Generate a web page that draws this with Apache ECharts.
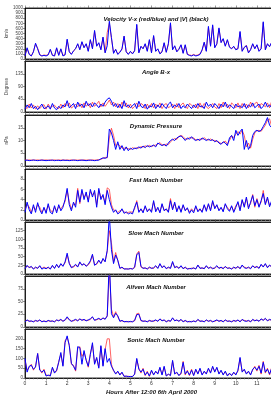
<!DOCTYPE html>
<html>
<head>
<meta charset="utf-8">
<script src="https://cdn.jsdelivr.net/npm/echarts/dist/echarts.min.js"></script>
<style>
    html, body { margin: 0; padding: 0; background: #fff; }
    #chart { width: 271px; height: 399px; }
</style>
</head>
<body>
<div id="chart"></div>
<script>
// sample spacing of the data, hours
const STEP = 0.1

const panelTitles = ['Velocity V-x (red/blue) and |V| (black)', 'Angle B-x', 'Dynamic Pressure',
    'Fast Mach Number', 'Slow Mach Number', 'Alfven Mach Number', 'Sonic Mach Number']
const yNames = ['km/s', 'Degrees', 'nPa', '', '', '', '']
const yMin = [0, 0, 0, 0, 0, 0, 0]
const yMax = [1000, 180, 20, 10, 150, 100, 250]
const yStep = [100, 45, 5, 2, 25, 25, 50]
const xTicks = [0, 12, 1]
const xTitle = 'Hours After 12:00 6th April 2000'

const velBlue = [60,220,90,60,140,310,200,80,60,70,
    60,80,190,70,60,220,70,200,60,80,
    390,140,90,160,200,300,180,340,220,300,
    150,380,200,560,250,320,180,430,120,260,
    740,420,110,190,90,130,200,450,140,90,
    150,100,160,680,120,250,200,300,150,380,
    120,460,150,200,100,140,320,130,300,710,
    180,260,140,190,280,110,280,90,70,60,
    80,60,70,90,180,330,150,640,250,670,
    220,300,610,320,400,250,380,230,200,250,
    180,200,540,150,230,260,120,180,300,200,
    280,150,200,730,180,300,240,330,200,260,
    180]
const velRed = [70,200,100,60,150,290,210,90,60,80,
    70,90,180,80,60,210,80,190,70,90,
    370,150,100,150,210,290,190,330,230,290,
    160,370,210,540,260,310,190,420,130,520,
    700,400,120,180,100,140,190,440,150,100,
    140,110,170,660,130,240,210,290,160,370,
    130,450,160,190,110,150,310,140,290,690,
    190,250,150,200,270,120,270,100,80,70,
    90,70,80,100,170,320,160,620,260,650,
    230,290,590,330,390,260,370,240,210,240,
    190,210,520,160,220,270,130,190,290,210,
    270,160,210,710,190,290,250,320,210,250,
    190]

const angBlue = [10,25,15,30,12,20,8,18,28,12,
    15,22,10,30,14,8,20,12,25,18,
    40,15,22,30,12,35,20,28,15,38,
    22,30,18,32,25,15,28,20,35,45,
    50,38,20,30,15,28,12,40,18,25,
    15,22,30,12,38,20,15,28,10,22,
    18,32,12,25,15,30,20,12,28,35,
    15,25,18,30,12,22,15,28,20,12,
    25,15,30,18,22,12,35,20,28,15,
    30,22,12,28,18,35,15,25,20,12,
    28,18,22,15,30,12,25,18,32,15,
    22,28,12,20,35,18,25,15,30,20,
    22]
const angRed = [18,12,28,14,25,10,22,12,20,26,
    10,28,16,20,24,15,12,28,15,30,
    22,32,14,20,28,18,30,15,32,20,
    30,15,35,20,28,38,18,32,20,30,
    42,25,35,18,30,15,35,20,32,14,
    28,12,20,32,18,30,25,12,28,15,
    30,15,28,18,32,12,25,30,15,20,
    28,12,30,15,25,32,20,12,30,25,
    15,28,12,32,15,30,18,12,20,30,
    18,12,30,15,35,20,28,12,32,25,
    15,32,12,30,18,28,15,35,20,30,
    35,15,30,25,18,32,15,38,20,28,
    15]

const presBlue = [2.2,2.3,2.1,2.2,2.3,2.2,2.1,2.2,2.3,2.2,
    2.1,2.2,2.2,2.3,2.1,2.2,2.2,2.1,2.3,2.2,
    2.2,2.1,2.2,2.3,2.2,2.1,2.2,2.3,2.2,2.1,
    2.2,2.3,2.2,2.1,2.2,2.3,2.8,3.2,3.0,3.4,
    14.5,13,10,6.5,9.5,6.5,8,6,7.5,6,
    7,6.5,7,6.8,7.5,7,7.8,7.2,8,7.5,
    7.8,8.2,7.5,9,8.5,8,8.5,7.8,9,10,
    10.5,10,11,11.5,11.8,11,10,11,10.5,11.5,
    10.5,10,10.5,10,11,10.5,10,10.5,10,10.3,
    9.5,10,9,8.5,9.5,9,8,11,12,10,
    14,12,13.5,14.5,6.5,10,6.5,8,12,13.5,
    14,13.5,14,15.5,17,19,16,15,17,18,
    14]
const presRed = [2.4,2.3,2.4,2.3,2.4,2.3,2.4,2.3,2.4,2.3,
    2.4,2.3,2.4,2.3,2.4,2.3,2.4,2.3,2.4,2.3,
    2.4,2.3,2.4,2.3,2.4,2.3,2.4,2.3,2.4,2.3,
    2.4,2.3,2.4,2.3,2.4,2.5,2.6,3.0,3.4,3.2,
    11,14.8,12,8,8.5,8,7,7,7,6.8,
    6.5,7.2,6.8,7.2,7,7.6,7.4,7.9,7.6,8.1,
    7.6,8,8.2,8.6,9.2,8.3,8.2,8.6,8.4,9.5,
    10.2,10.8,10.4,11.6,12,11.5,10.6,10.5,11.2,11,
    11,10.3,10.2,10.6,10.5,11.1,10.4,10.2,10.6,10.1,
    10,9.6,9.4,8.8,9.2,9.8,8.6,10,11.8,11.2,
    12.5,13.5,12.5,14,12,7.5,9,7,10.5,13,
    13.8,14,13.6,14.8,16,18,18.5,15.5,16.5,17.5,
    16]

const fastBlue = [1.5,3.5,2,1.2,3,1.5,3.4,2,1.2,2.5,
    1.3,3.2,1.5,1.2,2.8,1.4,3,1.8,2.5,4,
    6.2,3,1.8,3.5,2.5,5.8,3.5,6,4,5.5,
    3.5,6,4.5,5.8,2.5,6.2,4,5,3,5.8,
    4,2.5,1.5,2,1.2,1.5,2.2,1.3,1.6,1.2,
    1.4,1.2,2.5,3.5,1.5,2.2,1.4,2.8,1.6,2.2,
    1.5,3.8,1.6,2.5,1.4,3.2,1.8,2.2,1.5,3.8,
    2,3.5,1.6,2.8,1.5,3,1.8,2.4,1.3,2,
    1.4,2.8,1.6,2.2,1.5,3,1.7,3.2,1.8,3.8,
    2.2,3,1.8,2.5,1.6,3.2,2.2,1.7,2.8,1.5,
    2.5,3.6,1.8,4,2.5,4.5,2.2,3.5,4.8,2.8,
    4,2.5,3.8,5.2,3,4.5,2.6,3.8,2.4,3.5,
    2.5]
const fastRed = [2,3,2.6,1.5,2.6,2,3,2.5,1.5,2.2,
    1.8,2.8,2,1.5,2.5,1.8,2.6,2.2,2.8,3.6,
    5.8,3.5,2.2,3.2,3,6.2,3.2,5.6,4.5,5,
    4,5.6,5,5.4,3,5.8,4.5,4.6,3.5,6.3,
    6,3,2,1.8,1.5,1.8,2,1.6,1.4,1.5,
    1.6,1.5,2.2,3.8,1.8,2,1.7,2.5,1.9,2,
    1.8,3.5,2,2.2,1.7,3,2,2,1.8,4.2,
    2.2,3.2,1.9,2.5,1.8,2.8,2,2.2,1.6,2.2,
    1.7,2.5,1.9,2,1.8,2.8,2,3,2,3.5,
    2.5,2.8,2,2.3,1.9,3,2.5,1.9,2.6,1.8,
    2.8,3.3,2.1,3.8,2.8,4.2,2.5,3.2,5,2.5,
    4.2,2.8,3.5,5.8,3.2,4.2,2.9,3.5,2.7,3.2,
    2.8]

const slowBlue = [15,25,18,22,14,20,16,24,14,18,
    15,20,14,25,16,28,18,30,22,35,
    60,30,18,22,28,20,35,25,30,22,
    28,38,57,25,30,40,30,45,35,68,
    170,70,30,55,40,16,20,14,15,14,
    16,14,20,55,62,22,16,18,14,20,
    16,18,24,16,30,18,24,15,20,16,
    36,18,22,16,24,15,20,14,16,15,
    18,14,26,16,18,15,24,16,20,15,
    18,24,16,20,15,22,16,18,14,20,
    16,22,15,26,18,16,20,15,24,18,
    22,16,28,20,30,18,26,20,16,18,
    16]
const slowRed = [18,22,20,20,16,18,18,22,16,20,
    17,18,16,22,18,25,20,28,24,32,
    55,32,20,20,25,22,32,27,28,24,
    26,35,54,27,28,38,32,42,37,65,
    125,90,35,62,38,18,18,16,14,15,
    15,16,18,58,66,20,18,16,16,18,
    18,16,22,18,28,20,22,17,18,18,
    33,20,20,18,22,17,18,16,15,17,
    16,16,24,18,16,17,22,18,18,17,
    16,22,18,18,17,20,18,16,16,18,
    18,20,17,24,20,18,18,17,22,20,
    20,18,26,22,28,20,24,22,18,16,
    18]

const alfBlue = [10,14,11,12,10,13,11,14,10,12,
    10,13,11,12,10,14,12,15,11,14,
    20,14,11,13,15,12,16,13,15,12,
    14,16,20,13,15,17,14,18,15,22,
    130,26,18,27,22,11,13,10,11,10,
    11,10,13,24,25,13,11,12,10,13,
    11,12,14,11,16,12,14,10,13,11,
    18,12,14,11,15,10,13,10,11,10,
    12,10,15,11,12,10,14,11,13,10,
    12,14,11,13,10,14,11,12,10,13,
    11,14,10,15,12,11,13,10,15,12,
    14,11,16,13,17,12,15,13,11,12,
    11]
const alfRed = [11,13,12,11,11,12,12,13,11,11,
    11,12,12,11,11,13,13,14,12,13,
    18,15,12,12,14,13,15,14,14,13,
    13,15,19,14,14,16,15,17,16,21,
    110,35,20,30,20,12,12,11,10,11,
    10,11,12,26,27,12,12,11,11,12,
    12,11,13,12,15,13,13,11,12,12,
    17,13,13,12,14,11,12,11,10,11,
    11,11,14,12,11,11,13,12,12,11,
    11,13,12,12,11,13,12,11,11,12,
    12,13,11,14,13,12,12,11,14,13,
    13,12,15,14,16,13,14,14,12,11,
    12]

const sonBlue = [100,30,60,65,45,55,125,40,30,40,
    10,15,10,55,25,40,80,130,60,180,
    215,165,75,60,40,160,155,70,140,90,
    60,120,180,70,105,50,165,60,150,80,
    100,60,40,20,35,15,30,8,10,7,
    8,7,20,100,45,30,45,15,30,10,
    40,15,35,20,55,15,60,10,20,12,
    90,20,30,12,25,80,20,35,15,40,
    12,45,20,50,15,35,20,50,25,60,
    30,55,20,40,15,35,10,25,12,30,
    15,40,105,30,45,20,35,15,45,55,
    40,60,25,80,30,45,20,50,25,40,
    20]
const sonRed = [90,40,55,70,40,60,125,45,25,45,
    15,12,15,50,30,35,85,120,65,190,
    205,170,70,65,35,150,160,110,130,95,
    55,125,170,75,100,55,160,65,145,200,
    200,70,35,25,30,20,25,10,8,9,
    7,9,18,95,50,25,50,12,35,8,
    35,20,30,25,50,20,55,12,18,15,
    85,25,25,15,20,85,15,40,12,45,
    15,40,25,45,20,30,25,45,30,55,
    35,50,25,35,20,30,15,20,15,25,
    20,35,100,35,40,25,30,20,40,60,
    35,65,20,85,25,50,15,55,20,45,
    25]

const blueSets = [velBlue, angBlue, presBlue, fastBlue, slowBlue, alfBlue, sonBlue]
const redSets = [velRed, angRed, presRed, fastRed, slowRed, alfRed, sonRed]

// panel boxes in pixels
const tops = [8, 61, 115, 169, 222, 276, 329]
const heights = [51, 51, 51, 51, 52, 51, 49]

const font = 'Liberation Sans'
const toPairs = (arr) => arr.map((v, i) => [+(i * STEP).toFixed(2), v])

const grids = []
const xAxes = []
const yAxes = []
const series = []
const titles = []

for (let i = 0; i < 7; i++) {
    grids.push({
        left: 25,
        width: 253,
        top: tops[i],
        height: heights[i],
        outerBoundsMode: 'none',
        containLabel: false,
        show: true,
        borderColor: '#000',
        borderWidth: 0.8,
        backgroundColor: '#fff'
    })
    const last = i === 6
    const xBase = {
        type: 'value',
        gridIndex: i,
        min: xTicks[0],
        max: xTicks[1],
        interval: xTicks[2],
        splitLine: { show: false },
        axisLine: { show: true, lineStyle: { color: '#000', width: 0.8 } },
        axisTick: { show: true, inside: false, length: 2.5, lineStyle: { color: '#555', width: 0.6 } },
        minorTick: { show: true, splitNumber: 5, length: 1.5, lineStyle: { color: '#888', width: 0.5 } }
    }
    xAxes.push(Object.assign({}, xBase, {
        position: 'bottom',
        axisLabel: { show: last, fontSize: 5, color: '#333', margin: 3, fontFamily: font },
        name: last ? xTitle : '',
        nameLocation: 'middle',
        nameGap: 11,
        nameMoveOverlap: false,
        nameTextStyle: { fontSize: 6, color: '#111', fontFamily: font, fontStyle: 'italic', fontWeight: 'bold' }
    }))
    xAxes.push(Object.assign({}, xBase, {
        position: 'top',
        axisLabel: { show: false }
    }))
    yAxes.push({
        type: 'value',
        gridIndex: i,
        min: yMin[i],
        max: yMax[i],
        interval: yStep[i],
        splitLine: { show: false },
        axisLine: { show: true, lineStyle: { color: '#000', width: 0.8 } },
        axisTick: { show: true, length: 2, lineStyle: { color: '#444', width: 0.6 } },
        axisLabel: {
            fontSize: 4.5, color: '#444', margin: 2, fontFamily: font, showMaxLabel: i === 0,
            formatter: (v) => String(v)
        },
        name: yNames[i],
        nameLocation: 'middle',
        nameGap: 16,
        nameMoveOverlap: false,
        nameTextStyle: { fontSize: 4.5, color: '#444', fontFamily: font }
    })
    series.push({
        type: 'line',
        xAxisIndex: i * 2,
        yAxisIndex: i,
        data: toPairs(redSets[i]),
        showSymbol: false,
        symbol: 'none',
        lineStyle: { color: '#ff2020', width: 0.7 },
        silent: true,
        animation: false
    })
    series.push({
        type: 'line',
        xAxisIndex: i * 2,
        yAxisIndex: i,
        data: toPairs(blueSets[i]),
        showSymbol: false,
        symbol: 'none',
        lineStyle: { color: '#0000ff', width: 1 },
        silent: true,
        animation: false
    })
    titles.push({
        text: panelTitles[i],
        left: 151,
        textAlign: 'center',
        top: tops[i] + 3,
        textStyle: { fontSize: 6, color: '#111', fontFamily: font, fontStyle: 'italic', fontWeight: 'bold' }
    })
}

const myChart = echarts.init(document.getElementById('chart'), null, { renderer: 'canvas' })
myChart.setOption({
    backgroundColor: '#fff',
    animation: false,
    title: titles,
    grid: grids,
    xAxis: xAxes,
    yAxis: yAxes,
    series: series
})
</script>
</body>
</html>
